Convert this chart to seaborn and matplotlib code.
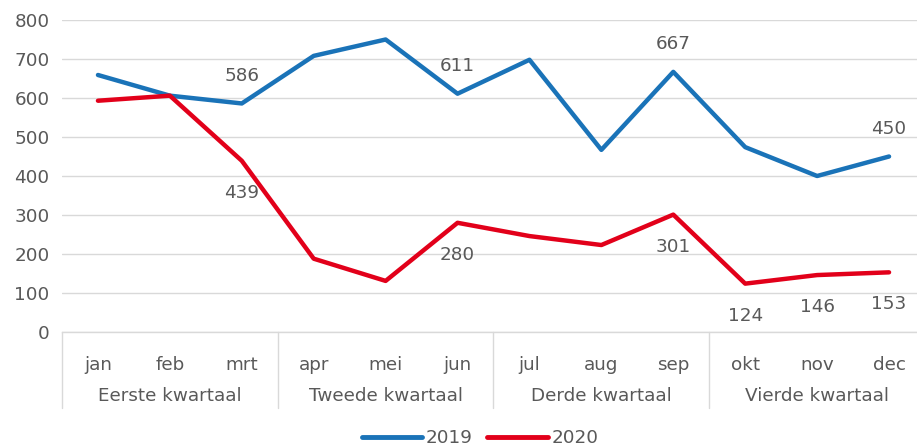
import matplotlib
matplotlib.use("Agg")
import matplotlib.pyplot as plt
import matplotlib.transforms as mtransforms
from matplotlib.lines import Line2D
import seaborn as sns
import pandas as pd

months = ["jan", "feb", "mrt", "apr", "mei", "jun", "jul", "aug", "sep", "okt", "nov", "dec"]
quarters = ["Eerste kwartaal", "Tweede kwartaal", "Derde kwartaal", "Vierde kwartaal"]
values_2019 = [659, 606, 586, 708, 750, 611, 698, 467, 667, 474, 400, 450]
values_2020 = [593, 606, 439, 188, 131, 280, 246, 223, 301, 124, 146, 153]
labels_2019 = [2, 5, 8, 11]
labels_2020 = [2, 5, 8, 9, 10, 11]
series = ["2019", "2020"]
colors = {"2019": "#1a73b8", "2020": "#e2001a"}

sns.set_theme(style="white")
plt.rcParams['font.family'] = ['DejaVu Sans']
text_color = "#595959"
grid_color = "#d9d9d9"
fs = 13.2

df = pd.DataFrame({
    "idx": list(range(12)) * 2,
    "value": values_2019 + values_2020,
    "jaar": ["2019"] * 12 + ["2020"] * 12,
})

fig = plt.figure(figsize=(9.17, 4.48), dpi=100)
W, H = 917, 448
ax = fig.add_axes([62 / W, (448 - 332) / H, (925 - 62) / W, 312 / H])

sns.lineplot(data=df, x="idx", y="value", hue="jaar", palette=colors, ax=ax,
             linewidth=3.2, legend=False, sort=False)

ax.set_xlim(-0.5, 11.5)
ax.set_ylim(0, 800)
ax.set_yticks(range(0, 801, 100))
ax.set_yticklabels([str(v) for v in range(0, 801, 100)], fontsize=fs, color=text_color)
ax.tick_params(axis="y", length=0, pad=9)
ax.set_xticks(range(12))
ax.set_xticklabels(months, fontsize=fs, color=text_color)
ax.tick_params(axis="x", length=0, pad=17)
ax.set_xlabel("")
ax.set_ylabel("")
for s in ["top", "right", "left"]:
    ax.spines[s].set_visible(False)
ax.spines["bottom"].set_color(grid_color)
ax.spines["bottom"].set_linewidth(1)
ax.yaxis.grid(True, color=grid_color, linewidth=1)
ax.set_axisbelow(True)

# data labels
for i in labels_2019:
    ax.annotate(str(values_2019[i]), (i, values_2019[i]), xytext=(0, 20), textcoords="offset points",
                ha="center", va="center", fontsize=fs, color=text_color)
for i in labels_2020:
    ax.annotate(str(values_2020[i]), (i, values_2020[i]), xytext=(0, -23), textcoords="offset points",
                ha="center", va="center", fontsize=fs, color=text_color)

# quarter groups
trans = mtransforms.blended_transform_factory(ax.transData, ax.transAxes)
bottom_sep = -(408 - 332) / 312
for q in range(5):
    xq = q * 3 - 0.5
    ax.plot([xq, xq], [0, bottom_sep], transform=trans, color=grid_color, lw=1, clip_on=False)
for q, name in enumerate(quarters):
    ax.text(q * 3 + 1, -(396 - 332) / 312, name, transform=trans, ha="center", va="center",
            fontsize=fs, color=text_color)

handles = [Line2D([0], [0], color=colors[s], lw=3.5) for s in series]
fig.legend(handles, series, loc="center", bbox_to_anchor=(480 / W, 1 - 438 / H), ncol=2,
           frameon=False, fontsize=fs, handlelength=3.3, columnspacing=0.8, handletextpad=0.2,
           labelcolor=text_color)

fig.savefig("out.png", dpi=100, facecolor="white")
